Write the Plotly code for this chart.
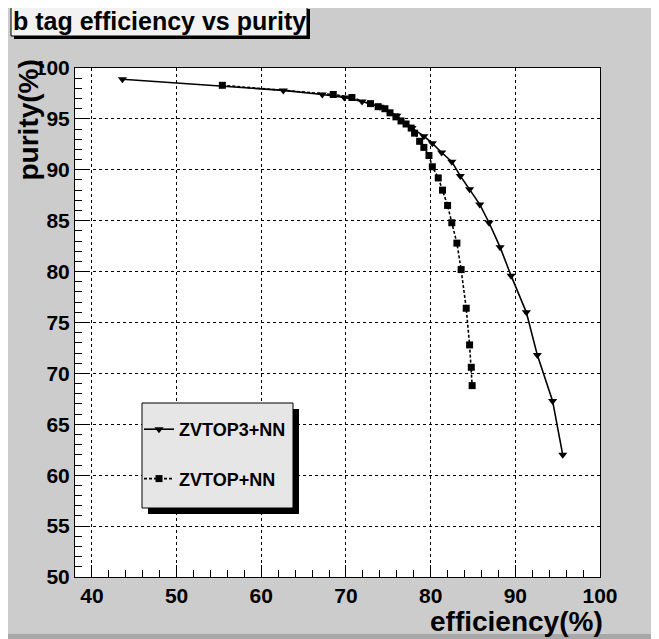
import plotly.graph_objects as go

# ZVTOP3+NN (solid, triangles)
eff3 = [43.6, 62.6, 67.2, 69.8, 71.9, 74.0, 76.0, 77.8, 79.2, 80.2, 81.3, 82.5,
        83.5, 84.6, 85.8, 86.9, 88.2, 89.5, 91.3, 92.6, 94.4, 95.6]
pur3 = [98.9, 97.8, 97.4, 97.1, 96.7, 96.2, 95.3, 94.1, 93.3, 92.6, 91.7, 90.8,
        89.4, 88.1, 86.6, 84.8, 82.4, 79.6, 76.0, 71.8, 67.3, 62.0]

# ZVTOP+NN (dashed, squares)
eff1 = [55.4, 68.5, 70.7, 72.9, 73.8, 74.6, 75.2, 75.9, 76.5, 77.1, 77.7, 78.1,
        78.7, 79.2, 79.8, 80.2, 80.9, 81.4, 82.0, 82.5, 83.1, 83.6, 84.2, 84.6,
        84.8, 84.9]
pur1 = [98.3, 97.4, 97.1, 96.5, 96.2, 96.0, 95.6, 95.2, 94.8, 94.5, 94.1, 93.6,
        92.8, 92.2, 91.4, 90.3, 89.2, 88.0, 86.5, 84.8, 82.8, 80.2, 76.4, 72.8,
        70.6, 68.8]

names = ["ZVTOP3+NN", "ZVTOP+NN"]
title_text = "b tag efficiency vs purity"
xtitle = "efficiency(%)"
ytitle = "purity(%)"

OFF = 8  # page body margin
W, H = 659 - OFF, 639 - OFF
L, R, T, B = 75, 600, 68, 577   # plot area in page pixels
FONT = "Liberation Sans, Arial, sans-serif"


def fx(px):
    return (px - L) / (R - L)


def fy(py):
    return (B - py) / (B - T)


fig = go.Figure()
fig.add_trace(go.Scatter(
    x=eff3, y=pur3, mode="lines+markers", name="<b>%s</b>" % names[0],
    legendgroup="a",
    line=dict(color="black", width=1.6),
    marker=dict(symbol="triangle-down", size=8, color="black")))
fig.add_trace(go.Scatter(
    x=eff1, y=pur1, mode="lines+markers", name="<b>%s</b>" % names[1],
    legendgroup="b",
    line=dict(color="black", width=1.6, dash="3px,2px"),
    marker=dict(symbol="square", size=7, color="black")))

shapes = []
shapes.append(dict(type="rect", xref="paper", yref="paper", layer="below",
                   x0=fx(0), x1=fx(700), y0=fy(700), y1=fy(634),
                   fillcolor="#a8a8a8", line=dict(width=0)))
# title box with shadow
shapes.append(dict(type="rect", xref="paper", yref="paper", layer="above",
                   x0=fx(14), x1=fx(310), y0=fy(39), y1=fy(9),
                   fillcolor="black", line=dict(width=0)))
shapes.append(dict(type="rect", xref="paper", yref="paper", layer="above",
                   x0=fx(11), x1=fx(307), y0=fy(36), y1=fy(6),
                   fillcolor="#f2f2f2", line=dict(color="black", width=1)))
# legend box with shadow
shapes.append(dict(type="rect", xref="paper", yref="paper", layer="above",
                   x0=fx(148), x1=fx(299), y0=fy(514), y1=fy(409),
                   fillcolor="black", line=dict(width=0)))
shapes.append(dict(type="rect", xref="paper", yref="paper", layer="above",
                   x0=fx(142), x1=fx(293), y0=fy(508), y1=fy(403),
                   fillcolor="#e6e6e6", line=dict(color="black", width=1)))

annotations = [
    dict(text="<b>%s</b>" % title_text, xref="paper", yref="paper",
         x=fx(159), y=fy(21), xanchor="center", yanchor="middle",
         showarrow=False, font=dict(family=FONT, size=25, color="black")),
    dict(text="<b>%s</b>" % xtitle, xref="paper", yref="paper",
         x=fx(605), y=fy(621), xanchor="right", yanchor="middle",
         showarrow=False, font=dict(family=FONT, size=28, color="black")),
    dict(text="<b>%s</b>" % ytitle, xref="paper", yref="paper",
         x=fx(28), y=fy(58), xanchor="center", yanchor="top", textangle=-90,
         showarrow=False, font=dict(family=FONT, size=28, color="black")),
]

fig.update_layout(
    width=W, height=H, autosize=False,
    margin=dict(l=L - OFF, r=W - (R - OFF), t=T - OFF, b=H - (B - OFF), pad=0),
    paper_bgcolor="#cccccc", plot_bgcolor="white",
    font=dict(family=FONT, color="black"),
    shapes=shapes, annotations=annotations,
    showlegend=True,
    legend=dict(x=fx(139), y=fy(411), xanchor="left", yanchor="top",
                bgcolor="rgba(0,0,0,0)", borderwidth=0,
                tracegroupgap=23, itemwidth=30,
                font=dict(family=FONT, size=18, color="black"),
                traceorder="grouped"),
    xaxis=dict(range=[38, 100], tick0=40, dtick=10, showline=True, mirror=True,
               linecolor="black", linewidth=1, ticks="inside", ticklen=12,
               tickcolor="black", showgrid=True, gridcolor="black", gridwidth=1,
               griddash="dot", zeroline=False,
               tickfont=dict(family=FONT, size=21, color="black"),
               tickprefix="<b>", ticksuffix="</b>",
               minor=dict(dtick=2, ticks="inside", ticklen=7, tickcolor="black",
                          showgrid=False)),
    yaxis=dict(range=[50, 100], tick0=50, dtick=5, showline=True, mirror=True,
               linecolor="black", linewidth=1, ticks="inside", ticklen=12,
               tickcolor="black", showgrid=True, gridcolor="black", gridwidth=1,
               griddash="dot", zeroline=False,
               tickfont=dict(family=FONT, size=21, color="black"),
               tickprefix="<b>", ticksuffix="</b>",
               minor=dict(dtick=1, ticks="inside", ticklen=7, tickcolor="black",
                          showgrid=False)),
)

fig.write_html("out.html")
